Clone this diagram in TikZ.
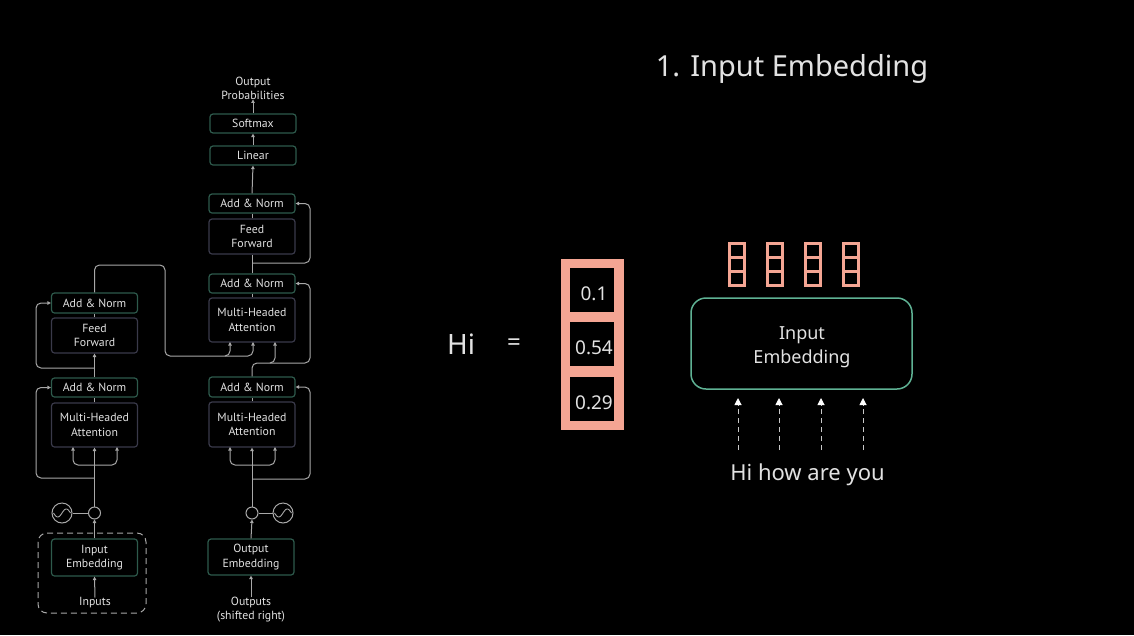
\documentclass[tikz,border=0pt]{standalone}
\usepackage{fontspec}
\setmainfont{PT Sans}
\newfontfamily\slidefont{Noto Sans}
\usetikzlibrary{arrows.meta}
\definecolor{boxgreen}{HTML}{2E5A4C}
\definecolor{boxgray}{HTML}{3A3A4A}
\definecolor{wire}{HTML}{A8A8A8}
\definecolor{txt}{HTML}{E2E2E2}
\definecolor{mint}{HTML}{5FB294}
\definecolor{salmon}{HTML}{F4A593}
\definecolor{dashgray}{HTML}{C8C8C8}
\tikzset{
  box/.style={line width=1.2pt, rounded corners=3pt, minimum width=86pt,
    inner sep=0pt, text=txt, align=center,
    font=\fontsize{11.8}{14.5}\selectfont},
  greenbox/.style={box, draw=boxgreen},
  graybox/.style={box, draw=boxgray},
  lbl/.style={text=txt, align=center, inner sep=0pt,
    font=\fontsize{11.8}{14}\selectfont},
  wireline/.style={draw=wire, line width=1pt, rounded corners=5pt},
  arr/.style={wireline, -{Triangle[length=3.5pt,width=3.5pt]}},
  dasharr/.style={draw=dashgray, line width=1pt, dash pattern=on 5pt off 4pt,
    -{Triangle[length=7pt,width=7pt,color=white]}},
  smallcell/.style={fill=black, minimum width=12pt, minimum height=11pt, inner sep=0pt},
  bigcell/.style={fill=black, minimum width=44pt, minimum height=44pt, inner sep=0pt},
  slidetext/.style={text=txt, inner sep=0pt, align=center},
}
\begin{document}
\begin{tikzpicture}[x=1pt,y=-1pt]
\fill[black] (0,0) rectangle (1134,635);
\useasboundingbox (0,0) rectangle (1134,635);

% ---------- encoder column ----------
\node[greenbox, minimum height=37pt] (inemb) at (94.5,557.5) {Input\\Embedding};
\node[lbl] (inputs) at (95,603) {Inputs};
\draw[draw=wire, line width=1pt, dash pattern=on 6pt off 4pt, rounded corners=9pt]
  (38,533) rectangle (146,613);
\node[draw=wire, line width=1pt, circle, minimum size=12pt, inner sep=0pt] (encadd) at (94.5,513) {};
\node[draw=wire, line width=1pt, circle, minimum size=20pt, inner sep=0pt] (encpos) at (62,513) {};
\draw[wire, line width=0.9pt] plot[domain=-8.5:8.5, samples=40] ({62+\x}, {513-4*sin(\x*21.2)});

\node[graybox, minimum height=44pt] (mha1) at (94.5,425) {Multi-Headed\\Attention};
\node[greenbox, minimum height=19pt] (an1) at (94.5,387.5) {Add \& Norm};
\node[graybox, minimum height=35pt] (ff1) at (94.5,335.5) {Feed\\Forward};
\node[greenbox, minimum height=20pt] (an2) at (94.5,303) {Add \& Norm};

% ---------- decoder column ----------
\node[greenbox, minimum height=36pt] (outemb) at (251,557) {Output\\Embedding};
\node[lbl] (outputs) at (251,610) {Outputs\\(shifted right)};
\node[draw=wire, line width=1pt, circle, minimum size=12pt, inner sep=0pt] (decadd) at (252,513) {};
\node[draw=wire, line width=1pt, circle, minimum size=20pt, inner sep=0pt] (decpos) at (283,513) {};
\draw[wire, line width=0.9pt] plot[domain=-8.5:8.5, samples=40] ({283+\x}, {513-4*sin(\x*21.2)});

\node[graybox, minimum height=45pt] (mha2) at (252,424.5) {Multi-Headed\\Attention};
\node[greenbox, minimum height=20pt] (an3) at (252,387) {Add \& Norm};
\node[graybox, minimum height=44pt] (mha3) at (252,320) {Multi-Headed\\Attention};
\node[greenbox, minimum height=19pt] (an4) at (252,283.5) {Add \& Norm};
\node[graybox, minimum height=35pt] (ff2) at (252,236.5) {Feed\\Forward};
\node[greenbox, minimum height=19pt] (an5) at (252,203.5) {Add \& Norm};
\node[greenbox, minimum height=19pt] (linear) at (253,155.5) {Linear};
\node[greenbox, minimum height=19pt] (softmax) at (253,123.5) {Softmax};
\node[lbl] (probs) at (253,88) {Output\\Probabilities};

% ---------- encoder wiring ----------
\draw[arr] (inputs.north) -- (inemb.south);
\draw[arr] (inemb.north) -- (encadd.south);
\draw[wireline] (encpos.east) -- (encadd.west);
\draw[arr] (encadd.north) -- (mha1.south);
\draw[arr] (94.5,465) -- (73,465) -- (73,447);
\draw[arr] (94.5,465) -- (117,465) -- (117,447);
\draw[arr] (94.5,478) -- (36,478) -- (36,387.5) -- (an1.west);
\draw[wireline] (mha1.north) -- (an1.south);
\draw[arr] (an1.north) -- (ff1.south);
\draw[arr] (94.5,368) -- (36,368) -- (36,303) -- (an2.west);
\draw[wireline] (ff1.north) -- (an2.south);
\draw[arr] (an2.north) -- (94.5,265) -- (165,265) -- (165,356) -- (230,356) -- (230,342);
\draw[arr] (225,356) -- (253,356) -- (253,342);

% ---------- decoder wiring ----------
\draw[arr] (outputs.north) -- (outemb.south);
\draw[arr] (outemb.north) -- (decadd.south);
\draw[wireline] (decadd.east) -- (decpos.west);
\draw[arr] (decadd.north) -- (mha2.south);
\draw[arr] (252,465) -- (230,465) -- (230,447);
\draw[arr] (252,465) -- (275,465) -- (275,447);
\draw[arr] (252,479) -- (310,479) -- (310,387) -- (an3.east);
\draw[wireline] (mha2.north) -- (an3.south);
\draw[arr] (an3.north) -- (252,363) -- (275,363) -- (275,342);
\draw[arr] (270,363) -- (310,363) -- (310,283.5) -- (an4.east);
\draw[wireline] (mha3.north) -- (an4.south);
\draw[wireline] (an4.north) -- (ff2.south);
\draw[arr] (252,263) -- (310,263) -- (310,203.5) -- (an5.east);
\draw[wireline] (ff2.north) -- (an5.south);
\draw[arr] (an5.north) -- (linear.south);
\draw[arr] (linear.north) -- (softmax.south);
\draw[arr] (softmax.north) -- (probs.south);

% ---------- embedding slide ----------
\node[slidetext, font=\slidefont\fontsize{29}{32}\selectfont] (title) at (792,69) {1. Input Embedding};
\node[slidetext, font=\slidefont\fontsize{28}{30}\selectfont] (hi) at (461,344) {Hi};
\node[slidetext, font=\slidefont\fontsize{24}{26}\selectfont] (eq) at (514,345) {=};

% word vector for "Hi"
\node[fill=salmon, minimum width=63pt, minimum height=171pt, inner sep=0pt] (vec) at (592.5,344.5) {};
\node[bigcell] (c1) at (592,290) {};
\node[bigcell] (c2) at (592,344) {};
\node[bigcell] (c3) at (592,398.5) {};
\node[slidetext, font=\slidefont\fontsize{19}{22}\selectfont] (v1) at (594,294) {0.1};
\node[slidetext, font=\slidefont\fontsize{19}{22}\selectfont] (v2) at (594,348) {0.54};
\node[slidetext, font=\slidefont\fontsize{19}{22}\selectfont] (v3) at (594,402.5) {0.29};

% one small vector per token
\foreach \i/\x in {1/737,2/774.5,3/813,4/850.5}{
  \node[fill=salmon, minimum width=18pt, minimum height=45pt, inner sep=0pt] (sv\i) at (\x,264.5) {};
  \node[smallcell] (sv\i a) at (\x,250.5) {};
  \node[smallcell] (sv\i b) at (\x,264.5) {};
  \node[smallcell] (sv\i c) at (\x,278.5) {};
}

\node[draw=mint, line width=1.5pt, rounded corners=15pt, minimum width=221pt,
  minimum height=91pt, inner sep=0pt] (emb) at (801.5,343.5) {};
\node[slidetext, font=\slidefont\fontsize{18}{24}\selectfont] (embtext) at (802,347) {Input\\Embedding};
\node[slidetext, font=\slidefont\fontsize{22}{24}\selectfont] (words) at (807.5,475) {Hi how are you};

\foreach \i/\x in {1/738,2/779,3/821,4/863}{
  \coordinate (d\i) at (\x,450);
  \coordinate (t\i) at (\x,398);
  \draw[dasharr] (d\i) -- (t\i);
}
\end{tikzpicture}
\end{document}
